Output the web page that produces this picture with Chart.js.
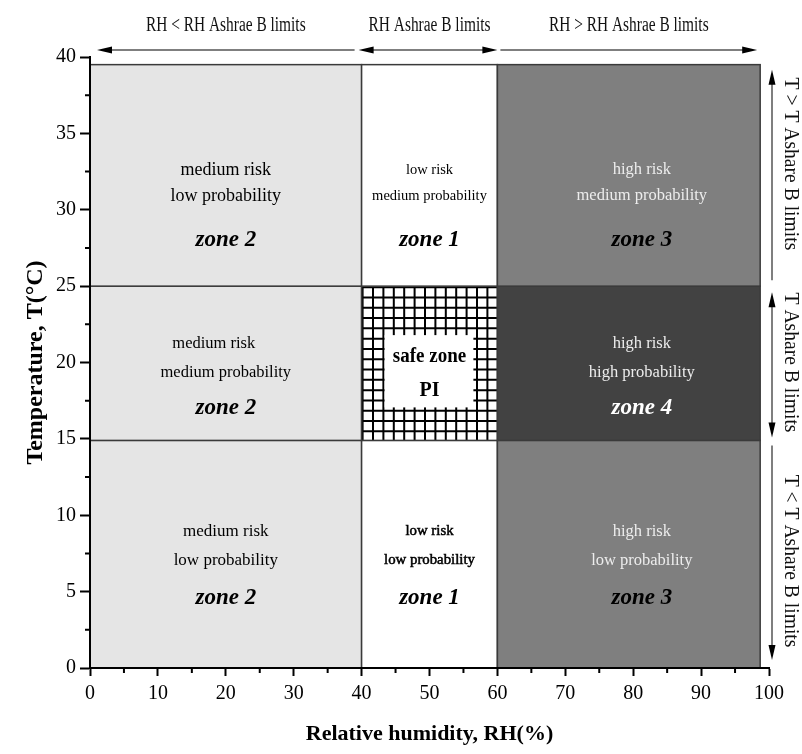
<!DOCTYPE html>
<html>
<head>
<meta charset="utf-8">
<script src="https://cdn.jsdelivr.net/npm/chart.js@4.4.1/dist/chart.umd.min.js"></script>
<style>
  html, body { margin: 0; padding: 0; background: #fff; }
  #wrap { width: 802px; height: 754px; position: relative; }
</style>
</head>
<body>
<div id="wrap"><canvas id="zones"></canvas></div>
<script>
// zone grid boundaries
var rhEdges = [0, 40, 60, 98.7];
var tEdges = [0, 14.9, 25, 39.5];

// cells, bottom row first, left to right (index 4 = safe zone)
var zoneNames = ['zone 2', 'zone 1', 'zone 3', 'zone 2', '', 'zone 4', 'zone 2', 'zone 1', 'zone 3'];
var riskText = ['medium risk', 'low risk', 'high risk', 'medium risk', '', 'high risk', 'medium risk', 'low risk', 'high risk'];
var probText = ['low probability', 'low probability', 'low probability', 'medium probability', '', 'high probability', 'low probability', 'medium probability', 'medium probability'];
var safeText = ['safe zone', 'PI'];

var rhBandLabels = ['RH < RH Ashrae B limits', 'RH Ashrae B limits', 'RH > RH Ashrae B limits'];
var tBandLabels = ['T < T Ashare B limits', 'T Ashare B limits', 'T > T Ashare B limits'];

var xTicks = [0, 10, 20, 30, 40, 50, 60, 70, 80, 90, 100];
var yTicks = [0, 5, 10, 15, 20, 25, 30, 35, 40];
var xMinor = [5, 15, 25, 35, 45, 55, 65, 75, 85, 95];
var yMinor = [2.5, 7.5, 12.5, 17.5, 22.5, 27.5, 32.5, 37.5];

// styles / layout
var SERIF = "'Liberation Serif', 'Times New Roman', serif";
var zoneColors = { 'zone 1': '#ffffff', 'zone 2': '#e5e5e5', 'zone 3': '#7f7f7f', 'zone 4': '#424242' };
var zoneTextSize = [17, 14.8, 16.5, 16.5, 0, 16.5, 18, 14.5, 16.5];
var rowTextOffsets = [[-23, 6, 44], [-20, 9, 45], [-5.5, 20.5, 64.5]];
var colShift = [0, 0, 13];
var tLabelPos = [7, 20, 33];

Chart.defaults.font.family = SERIF;

function label(ctx, text, x, y, font, color, sx, heavy) {
  ctx.save();
  ctx.translate(x, y);
  ctx.scale(sx || 1, 1);
  ctx.font = font;
  ctx.fillStyle = color;
  ctx.textAlign = 'center';
  ctx.textBaseline = 'middle';
  ctx.fillText(text, 0, 0);
  if (heavy) {
    ctx.strokeStyle = color;
    ctx.lineWidth = 0.5;
    ctx.strokeText(text, 0, 0);
  }
  ctx.restore();
}

function arrowHead(ctx, x, y, dx, dy) {
  var len = 15, half = 3.5;
  ctx.beginPath();
  ctx.moveTo(x, y);
  ctx.lineTo(x - dx * len - dy * half, y - dy * len + dx * half);
  ctx.lineTo(x - dx * len + dy * half, y - dy * len - dx * half);
  ctx.closePath();
  ctx.fill();
}

function arrowLine(ctx, x1, y1, x2, y2, headStart, headEnd) {
  var d = Math.hypot(x2 - x1, y2 - y1), dx = (x2 - x1) / d, dy = (y2 - y1) / d;
  ctx.save();
  ctx.strokeStyle = '#555';
  ctx.lineWidth = 1.5;
  ctx.beginPath();
  ctx.moveTo(x1 + (headStart ? dx * 10 : 0), y1 + (headStart ? dy * 10 : 0));
  ctx.lineTo(x2 - (headEnd ? dx * 10 : 0), y2 - (headEnd ? dy * 10 : 0));
  ctx.stroke();
  ctx.fillStyle = '#000';
  if (headStart) arrowHead(ctx, x1, y1, -dx, -dy);
  if (headEnd) arrowHead(ctx, x2, y2, dx, dy);
  ctx.restore();
}

var zonePlugin = {
  id: 'zones',
  beforeDraw: function (chart) {
    var ctx = chart.ctx, xs = chart.scales.x, ys = chart.scales.y;
    ctx.save();
    for (var r = 0; r < 3; r++) {
      for (var c = 0; c < 3; c++) {
        var i = r * 3 + c;
        var x0 = xs.getPixelForValue(rhEdges[c]), x1 = xs.getPixelForValue(rhEdges[c + 1]);
        var y0 = ys.getPixelForValue(tEdges[r]), y1 = ys.getPixelForValue(tEdges[r + 1]);
        if (i === 4) {
          ctx.fillStyle = '#fff';
          ctx.fillRect(x0, y1, x1 - x0, y0 - y1);
          ctx.strokeStyle = '#000';
          ctx.lineWidth = 2;
          ctx.beginPath();
          for (var gx = x0 + 1; gx <= x1; gx += 10.4) { ctx.moveTo(gx, y1); ctx.lineTo(gx, y0); }
          for (var gy = y1 + 1; gy <= y0; gy += 10.3) { ctx.moveTo(x0, gy); ctx.lineTo(x1, gy); }
          ctx.stroke();
          ctx.fillStyle = '#fff';
          ctx.fillRect(x0 + 23, y1 + 49, (x1 - x0) - 47, (y0 - y1) - 82);
        } else {
          ctx.fillStyle = zoneColors[zoneNames[i]];
          ctx.fillRect(x0, y1, x1 - x0, y0 - y1);
        }
        ctx.strokeStyle = '#3a3a3a';
        ctx.lineWidth = 1.5;
        ctx.strokeRect(x0, y1, x1 - x0, y0 - y1);
      }
    }
    ctx.restore();
  },
  afterDraw: function (chart) {
    var ctx = chart.ctx, xs = chart.scales.x, ys = chart.scales.y;
    ctx.save();
    // minor ticks
    ctx.strokeStyle = '#000';
    ctx.lineWidth = 2;
    ctx.beginPath();
    xMinor.forEach(function (v) { var p = xs.getPixelForValue(v); ctx.moveTo(p, ys.bottom); ctx.lineTo(p, ys.bottom + 5); });
    yMinor.forEach(function (v) { var p = ys.getPixelForValue(v); ctx.moveTo(xs.left - 5, p); ctx.lineTo(xs.left, p); });
    ctx.stroke();

    // cell texts
    for (var r = 0; r < 3; r++) {
      for (var c = 0; c < 3; c++) {
        var i = r * 3 + c;
        var x0 = xs.getPixelForValue(rhEdges[c]), x1 = xs.getPixelForValue(rhEdges[c + 1]);
        var y0 = ys.getPixelForValue(tEdges[r]), y1 = ys.getPixelForValue(tEdges[r + 1]);
        var cx = (x0 + x1) / 2 + colShift[c], cy = (y0 + y1) / 2;
        if (i === 4) {
          label(ctx, safeText[0], cx, y1 + 71, 'bold 20px ' + SERIF, '#000', 0.95);
          label(ctx, safeText[1], cx, y1 + 105, 'bold 20px ' + SERIF, '#000', 1);
          continue;
        }
        var dark = zoneNames[i] === 'zone 3' || zoneNames[i] === 'zone 4';
        var tc = dark ? '#ededed' : '#000';
        var f = zoneTextSize[i] + 'px ' + SERIF;
        var off = rowTextOffsets[r];
        label(ctx, riskText[i], cx + (i === 3 ? -12 : 0), cy + off[0], f, tc, 1, i === 1);
        label(ctx, probText[i], cx, cy + off[1], f, tc, 1, i === 1);
        label(ctx, zoneNames[i], cx, cy + off[2], 'italic bold 23px ' + SERIF, zoneNames[i] === 'zone 4' ? '#fff' : '#000', 1);
      }
    }

    // top RH band arrows and labels
    var ay = ys.top - 7;
    var e = rhEdges.map(function (v) { return xs.getPixelForValue(v); });
    arrowLine(ctx, e[0] + 7, ay, e[1] - 7, ay, true, false);
    arrowLine(ctx, e[1] - 3, ay, e[2], ay, true, true);
    arrowLine(ctx, e[2] + 3, ay, e[3] - 3, ay, false, true);
    for (var b = 0; b < 3; b++) {
      var mx = xs.getPixelForValue((rhEdges[b] + rhEdges[b + 1]) / 2);
      label(ctx, rhBandLabels[b], mx, ys.top - 31, '20px ' + SERIF, '#111', 0.77);
    }

    // right T band arrows and labels
    var vx = xs.right + 3;
    var t = tEdges.map(function (v) { return ys.getPixelForValue(v); });
    arrowLine(ctx, vx, t[0] - 8, vx, t[1] + 5, true, false);
    arrowLine(ctx, vx, t[1] - 3, vx, t[2] + 6, true, true);
    arrowLine(ctx, vx, t[2] - 6, vx, t[3] + 5, false, true);
    for (var k = 0; k < 3; k++) {
      var py = ys.getPixelForValue(tLabelPos[k]);
      ctx.save();
      ctx.translate(xs.right + 21, py);
      ctx.rotate(Math.PI / 2);
      label(ctx, tBandLabels[k], 0, 0, '20px ' + SERIF, '#111', 0.98);
      ctx.restore();
    }
    ctx.restore();
  }
};

new Chart(document.getElementById('zones'), {
  type: 'scatter',
  data: { datasets: [] },
  options: {
    responsive: true,
    maintainAspectRatio: false,
    animation: false,
    events: [],
    layout: { padding: { top: 57, right: 33, left: 0, bottom: 0 } },
    plugins: { legend: { display: false }, tooltip: { enabled: false } },
    scales: {
      x: {
        type: 'linear', min: 0, max: 100,
        afterFit: function (s) { s.height = 86; },
        afterBuildTicks: function (s) { s.ticks = xTicks.map(function (v) { return { value: v }; }); },
        grid: { drawOnChartArea: false, drawTicks: true, tickLength: 8, tickWidth: 2, tickColor: '#000' },
        border: { display: true, color: '#000', width: 2 },
        ticks: { color: '#000', padding: 6, maxRotation: 0, font: { size: 20 } },
        title: { display: true, text: 'Relative humidity, RH(%)', color: '#000', font: { size: 22, weight: 'bold' }, padding: { top: 0, bottom: 6 } }
      },
      y: {
        type: 'linear', min: 0, max: 40,
        afterFit: function (s) { s.width = 90; },
        afterBuildTicks: function (s) { s.ticks = yTicks.map(function (v) { return { value: v }; }); },
        grid: { drawOnChartArea: false, drawTicks: true, tickLength: 10, tickWidth: 2, tickColor: '#000' },
        border: { display: true, color: '#000', width: 2 },
        ticks: { color: '#000', padding: 4, font: { size: 20 } },
        title: { display: true, text: 'Temperature, T(°C)', color: '#000', font: { size: 24, weight: 'bold' }, padding: { top: 21, bottom: 0 } }
      }
    }
  },
  plugins: [zonePlugin]
});
</script>
</body>
</html>
